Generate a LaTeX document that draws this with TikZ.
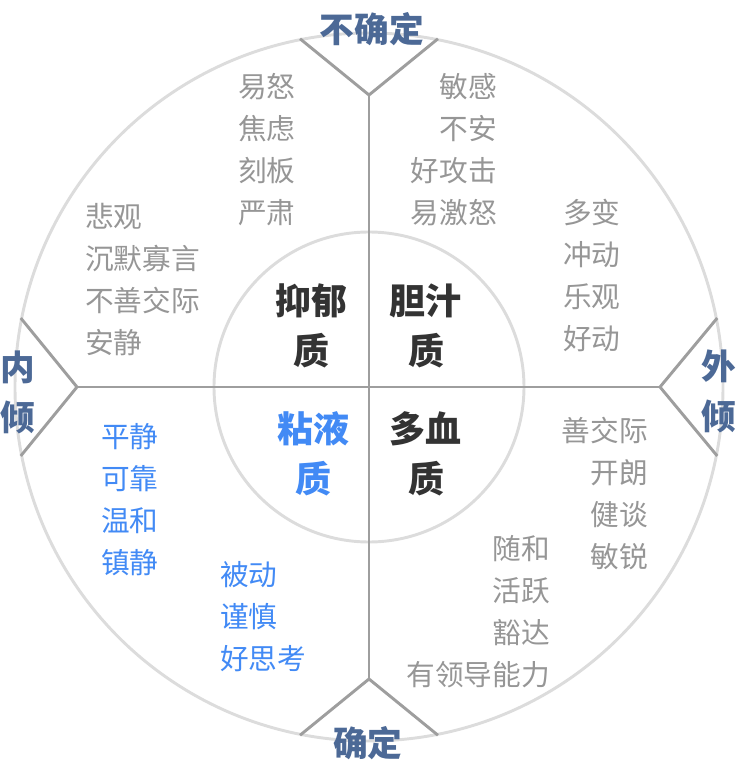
\documentclass[tikz,border=0pt]{standalone}
\usepackage{fontspec}
\usepackage{xcolor}
\usepackage{tikz}
\usetikzlibrary{calc}
\newfontfamily\cjk{Noto Sans CJK SC}
\definecolor{axisgray}{RGB}{158,158,158}
\definecolor{ringgray}{RGB}{220,220,220}
\definecolor{traitgray}{RGB}{150,150,150}
\definecolor{calmblue}{RGB}{66,138,245}
\definecolor{headblue}{RGB}{76,105,150}
\definecolor{inkdark}{RGB}{51,51,51}

\begin{document}
\begin{tikzpicture}[x=0.75pt,y=0.75pt,
  ring/.style={draw=ringgray,line width=2.2pt},
  axis/.style={draw=axisgray,line width=2.2pt,line join=miter},
  trait/.style={text=traitgray,inner sep=0pt,
                font=\cjk\fontsize{21.5}{31.5}\selectfont},
  calm/.style={trait,text=calmblue},
  kind/.style={text=inkdark,inner sep=0pt,align=center,
               font=\cjk\bfseries\fontsize{27}{37.5}\selectfont},
  pole/.style={text=headblue,inner sep=0pt,align=center,
               font=\cjk\bfseries\fontsize{26}{37.5}\selectfont}]
  \useasboundingbox (-369,-384) rectangle (369,387);
  \draw[ring] (0,0) circle[radius=354];
  \draw[ring] (0,0) circle[radius=155];
  \coordinate (up) at (0,292);
  \coordinate (dn) at (0,-292);
  \coordinate (lf) at (-292,0);
  \coordinate (rt) at (291,0);
  \foreach \a/\p in {90/up,180/lf,270/dn,0/rt}
    \draw[axis] (\a-11.2:355) -- (\p) -- (\a+11.2:355);
  \draw[axis] (lf) -- (rt);
  \draw[axis] (up) -- (dn);
  % temperaments
  \node[kind] (mel) at (-57,61) {抑郁\\质};
  \node[kind] (cho) at (57,61) {胆汁\\质};
  \node[kind,text=calmblue] (phl) at (-55,-67) {粘液\\质};
  \node[kind] (san) at (57,-67) {多血\\质};
  % traits
  \node[trait,align=left,anchor=west] (t1) at (-131,237.5) {易怒\\焦虑\\刻板\\严肃};
  \node[trait,align=right,anchor=east] (t2) at (128,237.5) {敏感\\不安\\好攻击\\易激怒};
  \node[trait,align=left,anchor=west] (t3) at (-284,107.5) {悲观\\沉默寡言\\不善交际\\安静};
  \node[trait,align=left,anchor=west] (t4) at (194,112) {多变\\冲动\\乐观\\好动};
  \node[calm,align=left,anchor=west] (t5) at (-268,-113) {平静\\可靠\\温和\\镇静};
  \node[calm,align=left,anchor=west] (t6) at (-149,-229.5) {被动\\谨慎\\好思考};
  \node[trait,align=right,anchor=east] (t7) at (279,-106.5) {善交际\\开朗\\健谈\\敏锐};
  \node[trait,align=right,anchor=east] (t8) at (181,-224.5) {随和\\活跃\\豁达\\有领导能力};
  % poles
  \node[pole] (unst) at (3,358) {不确定};
  \node[pole] (stab) at (-1,-356) {确定};
  \node[pole] (intro) at (-351,-5) {内\\倾};
  \node[pole] (extro) at (350,-4) {外\\倾};
\end{tikzpicture}
\end{document}
